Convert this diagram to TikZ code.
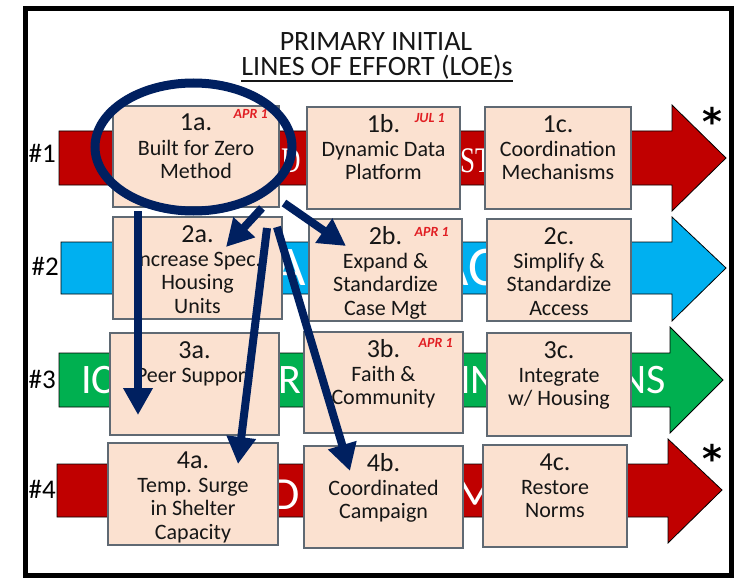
\documentclass[tikz,border=0pt]{standalone}
\usepackage{fontspec}
\setmainfont{Carlito}
\newfontfamily\serifband{Liberation Serif}
\newfontfamily\starfont{DejaVu Sans}
\usepackage{graphicx}
\usetikzlibrary{arrows.meta,shapes.geometric}
\definecolor{bandred}{RGB}{192,0,0}
\definecolor{bandblue}{RGB}{0,176,240}
\definecolor{bandgreen}{RGB}{0,176,80}
\definecolor{boxfill}{RGB}{251,225,208}
\definecolor{boxline}{RGB}{95,105,115}
\definecolor{navy}{RGB}{0,32,96}
\definecolor{datered}{RGB}{225,30,35}
\definecolor{txt}{RGB}{22,22,22}
% name, x, y, w, h, number, body
\newcommand{\loebox}[7]{%
  \node[boxst, minimum width=#4pt, minimum height=#5pt, anchor=north west] (#1) at (#2,#3) {};
  \node[numst, anchor=base] (#1n) at ([yshift=-25pt]#1.north) {#6};
  \node[bodyst, anchor=north] (#1t) at ([yshift=-32pt]#1.north) {\rule{0pt}{17pt}#7};
}
% colour, x0, top, bottom, xhead, headtop, headbottom, tipx, tipy
\newcommand{\loeband}[9]{%
  \draw[bandst, fill=#1] (#2,#3) -- (#5,#3) -- (#5,#6) -- (#8,#9) -- (#5,#7) -- (#5,#4) -- (#2,#4) -- cycle;
}
\begin{document}
\begin{tikzpicture}[x=1pt,y=-1pt,
  boxst/.style={draw=boxline, fill=boxfill, line width=1.3pt, rectangle, inner sep=0pt, outer sep=0pt},
  numst/.style={inner sep=0pt, text=txt, font=\fontsize{26}{26}\selectfont},
  bodyst/.style={inner sep=0pt, text=txt, align=center, font=\fontsize{22}{23.5}\selectfont},
  datest/.style={inner sep=0pt, text=datered, font=\bfseries\itshape\fontsize{14}{14}\selectfont},
  bandst/.style={draw=black, line width=0.8pt},
  bandtxt/.style={inner sep=0pt, text=white},
  hashst/.style={inner sep=0pt, text=black, font=\fontsize{27}{27}\selectfont},
  starst/.style={inner sep=0pt, text=black, font=\starfont\bfseries\fontsize{38}{38}\selectfont},
  titlest/.style={inner sep=0pt, text=txt, font=\fontsize{28}{28}\selectfont},
  navarrow/.style={draw=navy, line width=8pt, -{Triangle[width=28pt,length=27pt]}},
]
\useasboundingbox (0,0) rectangle (740,578);
\fill[white] (0,0) rectangle (740,578);
\draw[line width=5pt, black] (25,8.5) rectangle (731,575.5);

% title
\node[titlest, anchor=base] (title1) at (376,51) {PRIMARY INITIAL};
\node[titlest, anchor=base] (title2) at (377,76) {LINES OF EFFORT (LOE)s};
\draw[line width=1.5pt, txt] ([yshift=-5pt]title2.base west) -- ([yshift=-5pt]title2.base east);

% bands
\loeband{bandred}{59}{131}{185}{672}{105}{211}{726}{158}
\loeband{bandblue}{61}{242}{294}{672}{217}{321}{726}{268}
\loeband{bandgreen}{59}{353}{407}{670}{327}{433}{723}{380}
\loeband{bandred}{57}{464}{517}{668}{439}{543}{722}{490}

% band lettering (mostly hidden behind the boxes)
\node[bandtxt, font=\serifband\fontsize{36}{36}\selectfont, anchor=base west] (l1a) at (281,172) {\scalebox{0.75}[1]{D}};
\node[bandtxt, font=\serifband\fontsize{36}{36}\selectfont, anchor=base west] (l1b) at (460,172) {\scalebox{0.75}[1]{ST}};
\node[bandtxt, font=\fontsize{56}{56}\selectfont, anchor=base west] (l2a) at (273,285) {A};
\node[bandtxt, font=\fontsize{56}{56}\selectfont, anchor=base west] (l2b) at (436,285) {AC};
\node[bandtxt, font=\fontsize{42}{42}\selectfont, anchor=base west] (l3a) at (81,393) {IC};
\node[bandtxt, font=\fontsize{42}{42}\selectfont, anchor=base west] (l3b) at (278,393) {R};
\node[bandtxt, font=\fontsize{42}{42}\selectfont, anchor=base west] (l3c) at (460,393) {IN};
\node[bandtxt, font=\fontsize{42}{42}\selectfont, anchor=base west] (l3d) at (619,393) {NS};
\node[bandtxt, font=\fontsize{46}{46}\selectfont, anchor=base west] (l4a) at (271,509) {D};
\node[bandtxt, font=\fontsize{46}{46}\selectfont, anchor=base west] (l4b) at (455,509) {M};

% boxes
\loebox{b1a}{113}{106}{166}{101}{1a.}{Built for Zero\\Method}
\loebox{b1b}{307}{107}{153}{102}{1b.}{Dynamic Data\\Platform}
\loebox{b1c}{485}{107}{146}{102}{1c.}{Coordination\\Mechanisms}
\loebox{b2a}{113}{217}{169}{102}{2a.}{Increase Spec.\\Housing\\Units}
\loebox{b2b}{309}{219}{153}{102}{2b.}{Expand \&\\Standardize\\Case Mgt}
\loebox{b2c}{487}{219}{144}{102}{2c.}{Simplify \&\\Standardize\\Access}
\loebox{b3a}{110}{333}{169}{102}{3a.}{Peer Support}
\loebox{b3b}{304}{332}{159}{101}{3b.}{Faith \&\\Community}
\loebox{b3c}{487}{333}{144}{103}{3c.}{Integrate\\w/ Housing}
\loebox{b4a}{108}{443}{170}{102}{4a.}{Temp. Surge\\in Shelter\\Capacity}
\loebox{b4b}{304}{446}{159}{102}{4b.}{Coordinated\\Campaign}
\loebox{b4c}{483}{445}{144}{102}{4c.}{Restore\\Norms}

% dates
\node[datest, anchor=base east] (d1a) at ([xshift=-11pt,yshift=-13pt]b1a.north east) {APR 1};
\node[datest, anchor=base east] (d1b) at ([xshift=-15pt,yshift=-15pt]b1b.north east) {JUL 1};
\node[datest, anchor=base east] (d2b) at ([xshift=-13pt,yshift=-17pt]b2b.north east) {APR 1};
\node[datest, anchor=base east] (d3b) at ([xshift=-10pt,yshift=-15pt]b3b.north east) {APR 1};

% row labels
\node[hashst, anchor=base east] (h1) at (56,162) {\#1};
\node[hashst, anchor=base east] (h2) at (59,275) {\#2};
\node[hashst, anchor=base east] (h3) at (56,388) {\#3};
\node[hashst, anchor=base east] (h4) at (56,498) {\#4};

% asterisks
\node[starst, anchor=north] (st1) at (712.5,107) {*};
\node[starst, anchor=north] (st4) at (712,444) {*};

% ellipse
\node[draw=navy, line width=9pt, ellipse, inner sep=0pt, minimum width=197pt, minimum height=128pt] (oval) at (193.5,147) {};

% arrows
\coordinate (s1) at (138,211); \coordinate (e1) at (138,415);
\coordinate (s2) at (262,208); \coordinate (e2) at (226,247);
\coordinate (s3) at (284,203); \coordinate (e3) at (346,246);
\coordinate (s4) at (267,228); \coordinate (e4) at (238,464);
\coordinate (s5) at (277,227); \coordinate (e5) at (350,471);
\draw[navarrow] (s1) -- (e1);
\draw[navarrow] (s2) -- (e2);
\draw[navarrow] (s3) -- (e3);
\draw[navarrow] (s4) -- (e4);
\draw[navarrow] (s5) -- (e5);
\end{tikzpicture}
\end{document}
